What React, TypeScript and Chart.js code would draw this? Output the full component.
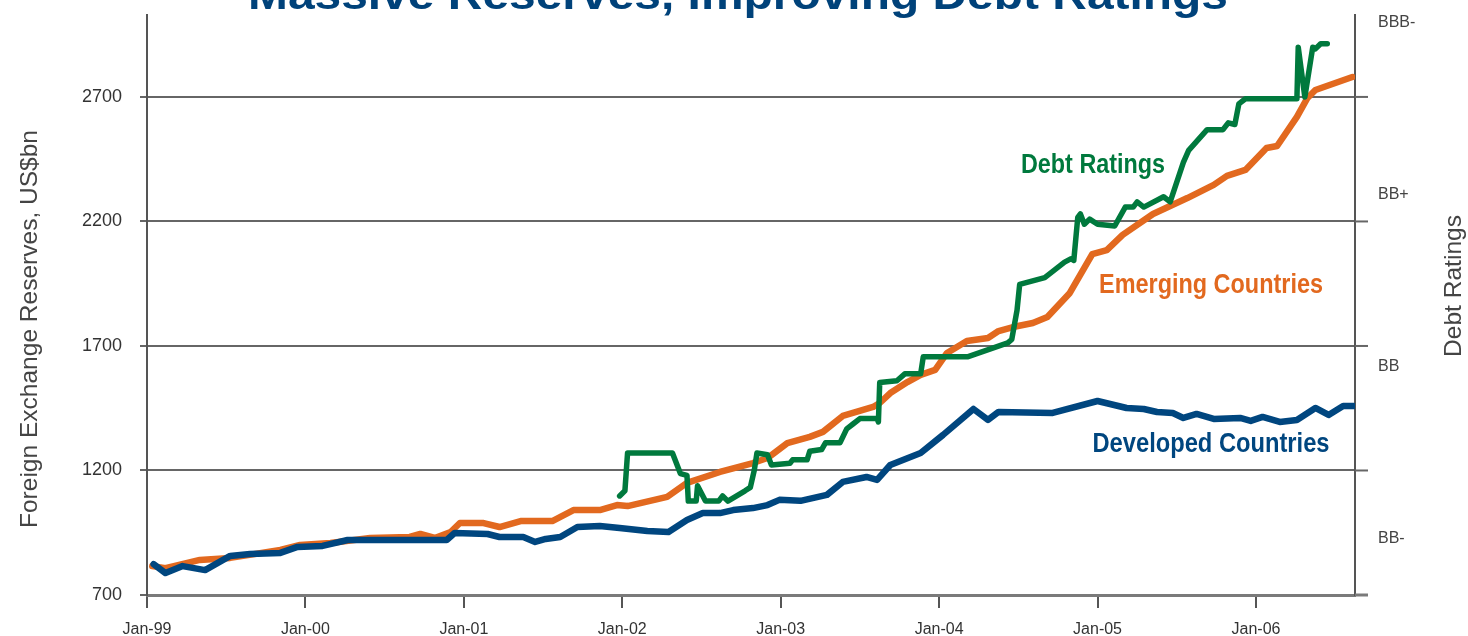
import React, { useEffect, useRef } from 'react';
import { Chart, registerables } from 'chart.js';

Chart.register(...registerables);

// Months since Jan-1999
const xTickMonths = [0, 12, 24, 36, 48, 60, 72, 84];
const xTickLabels = ['Jan-99', 'Jan-00', 'Jan-01', 'Jan-02', 'Jan-03', 'Jan-04', 'Jan-05', 'Jan-06'];
const reserveTicks = [700, 1200, 1700, 2200, 2700];
const ratingTicks = [0, 1, 2, 3];
const ratingLabels = ['BB-', 'BB', 'BB+', 'BBB-'];

const emergingMonths = [0.4, 1.4, 4.0, 6.3, 10.1, 11.6, 13.9, 16.9, 19.9, 20.7, 21.8, 23.0, 23.7, 25.5, 26.7, 28.3, 30.7, 32.3, 34.3, 35.6, 36.4, 39.4, 40.9, 43.4, 45.9, 47.0, 48.5, 50.2, 51.2, 52.7, 55.0, 55.5, 56.3, 57.6, 58.6, 59.7, 60.6, 62.1, 63.7, 64.5, 65.6, 67.1, 68.2, 69.9, 71.6, 72.7, 73.9, 76.2, 78.8, 80.8, 81.8, 83.2, 84.8, 85.6, 87.1, 87.9, 88.5, 91.3];
const emergingValues = [816, 808, 841, 849, 881, 901, 909, 929, 933, 945, 929, 953, 989, 989, 973, 997, 997, 1041, 1041, 1061, 1057, 1094, 1150, 1194, 1230, 1250, 1310, 1335, 1355, 1419, 1455, 1471, 1511, 1555, 1584, 1604, 1672, 1720, 1732, 1760, 1776, 1792, 1816, 1913, 2069, 2085, 2146, 2230, 2294, 2347, 2383, 2407, 2495, 2503, 2620, 2696, 2728, 2780];

const developedMonths = [0.5, 1.4, 2.7, 4.4, 6.3, 7.8, 10.1, 11.4, 13.3, 15.2, 17.1, 22.7, 23.3, 25.8, 26.7, 28.5, 29.4, 30.2, 31.3, 32.6, 34.3, 35.8, 37.9, 39.5, 40.9, 42.1, 43.4, 44.4, 45.9, 47.0, 47.9, 49.5, 51.5, 52.7, 54.5, 55.3, 56.3, 58.6, 60.3, 62.6, 63.7, 64.5, 68.6, 72.0, 74.2, 75.5, 76.5, 77.7, 78.5, 79.5, 80.8, 82.8, 83.6, 84.5, 85.8, 87.1, 88.5, 89.5, 90.6, 91.4];
const developedValues = [824, 788, 816, 800, 857, 865, 869, 893, 897, 921, 921, 921, 949, 945, 933, 933, 913, 925, 933, 973, 977, 969, 957, 953, 1001, 1029, 1029, 1041, 1049, 1061, 1082, 1078, 1102, 1154, 1174, 1162, 1222, 1270, 1343, 1447, 1403, 1435, 1431, 1479, 1451, 1447, 1435, 1431, 1411, 1427, 1407, 1411, 1399, 1415, 1395, 1403, 1451, 1423, 1459, 1459];

// Debt rating in notches: 0 = BB-, 1 = BB, 2 = BB+, 3 = BBB-
const ratingMonths = [35.8, 36.2, 36.4, 37.1, 39.8, 40.4, 40.9, 41.0, 41.6, 41.7, 42.3, 43.3, 43.6, 44.0, 45.3, 45.7, 46.0, 46.2, 47.0, 47.3, 48.7, 48.9, 50.0, 50.2, 51.1, 51.4, 52.5, 53.0, 53.5, 54.0, 55.3, 55.4, 55.5, 56.8, 57.4, 58.6, 58.8, 62.2, 65.2, 65.5, 65.9, 66.1, 68.0, 69.5, 70.0, 70.2, 70.5, 70.7, 71.0, 71.4, 72.0, 73.3, 74.1, 74.7, 75.0, 75.5, 77.0, 77.5, 78.5, 78.9, 80.3, 81.5, 81.9, 82.4, 82.7, 83.2, 87.1, 87.2, 87.7, 88.3, 88.5, 88.9, 89.4];
const ratingValues = [0.25, 0.28, 0.50, 0.50, 0.50, 0.38, 0.37, 0.22, 0.22, 0.31, 0.22, 0.22, 0.25, 0.22, 0.28, 0.30, 0.40, 0.50, 0.49, 0.43, 0.44, 0.46, 0.46, 0.51, 0.52, 0.56, 0.56, 0.64, 0.67, 0.70, 0.70, 0.68, 0.91, 0.92, 0.96, 0.96, 1.06, 1.06, 1.14, 1.16, 1.33, 1.48, 1.52, 1.61, 1.63, 1.62, 1.87, 1.89, 1.83, 1.86, 1.83, 1.82, 1.93, 1.93, 1.96, 1.93, 1.99, 1.96, 2.19, 2.26, 2.38, 2.38, 2.42, 2.41, 2.53, 2.56, 2.56, 2.86, 2.57, 2.86, 2.85, 2.88, 2.88];

const ORANGE = '#E2691F';
const BLUE = '#00467F';
const GREEN = '#00793D';
const TITLE_BLUE = '#00427A';
const SANS = '"Liberation Sans", Arial, sans-serif';

function drawFitted(ctx: CanvasRenderingContext2D, text: string, font: string, color: string, cx: number, cy: number, width: number, rot: number, baseline: CanvasTextBaseline) {
  ctx.save();
  ctx.font = font;
  const w = ctx.measureText(text).width;
  ctx.translate(cx, cy);
  if (rot) ctx.rotate(rot);
  ctx.scale(width / w, 1);
  ctx.textAlign = 'center';
  ctx.textBaseline = baseline;
  ctx.fillStyle = color;
  ctx.fillText(text, 0, 0);
  ctx.restore();
}

const noPad = (s: any) => {
  s.paddingTop = 0;
  s.paddingBottom = 0;
  s.paddingLeft = 0;
  s.paddingRight = 0;
};

export default function App() {
  const ref = useRef<HTMLCanvasElement>(null);
  useEffect(() => {
    document.body.style.margin = '0';
    const canvas = ref.current!;
    const pts = (xs: number[], ys: number[]) => xs.map((x, i) => ({ x, y: ys[i] }));

    const overlay = {
      id: 'overlay',
      afterDraw(chart: any) {
        const ctx: CanvasRenderingContext2D = chart.ctx;
        const area = chart.chartArea;
        const yS = chart.scales.y;
        ctx.save();
        reserveTicks.forEach((v, i) => {
          const py = yS.getPixelForValue(v);
          ctx.beginPath();
          ctx.strokeStyle = i === 0 ? '#7a7a7a' : '#666';
          ctx.lineWidth = i === 0 ? 3 : 2;
          ctx.moveTo(area.right, py);
          ctx.lineTo(area.right + 13, py);
          ctx.stroke();
        });
        ctx.restore();
        drawFitted(ctx, 'Massive Reserves, Improving Debt Ratings', `bold 42px ${SANS}`, TITLE_BLUE, 738, 9, 980, 0, 'alphabetic');
        drawFitted(ctx, 'Debt Ratings', `bold 27px ${SANS}`, GREEN, 1093, 173, 144, 0, 'alphabetic');
        drawFitted(ctx, 'Emerging Countries', `bold 27px ${SANS}`, ORANGE, 1211, 293, 224, 0, 'alphabetic');
        drawFitted(ctx, 'Developed Countries', `bold 27px ${SANS}`, BLUE, 1211, 452, 237, 0, 'alphabetic');
        drawFitted(ctx, 'Foreign Exchange Reserves, US$bn', `24px ${SANS}`, '#444', 30, 329, 398, -Math.PI / 2, 'middle');
        drawFitted(ctx, 'Debt Ratings', `24px ${SANS}`, '#444', 1454, 286, 142, -Math.PI / 2, 'middle');
      },
    };

    const chart = new Chart(canvas, {
      type: 'line',
      data: {
        datasets: [
          {
            label: 'Debt Ratings',
            data: pts(ratingMonths, ratingValues),
            yAxisID: 'y2',
            borderColor: GREEN,
            borderWidth: 5.5,
            pointRadius: 0,
            tension: 0,
            borderJoinStyle: 'round',
            borderCapStyle: 'round',
            order: 0,
          },
          {
            label: 'Developed Countries',
            data: pts(developedMonths, developedValues),
            yAxisID: 'y',
            borderColor: BLUE,
            borderWidth: 6.5,
            pointRadius: 0,
            tension: 0,
            borderJoinStyle: 'round',
            borderCapStyle: 'round',
            order: 1,
          },
          {
            label: 'Emerging Countries',
            data: pts(emergingMonths, emergingValues),
            yAxisID: 'y',
            borderColor: ORANGE,
            borderWidth: 6.5,
            pointRadius: 0,
            tension: 0,
            borderJoinStyle: 'round',
            borderCapStyle: 'round',
            order: 2,
          },
        ],
      },
      options: {
        responsive: false,
        animation: false,
        devicePixelRatio: 1,
        layout: { padding: { top: 15, left: 0, right: 0, bottom: 0 } },
        plugins: { legend: { display: false }, tooltip: { enabled: false }, title: { display: false } },
        scales: {
          x: {
            type: 'linear',
            min: 0,
            max: 91.5,
            afterBuildTicks: (s: any) => { s.ticks = xTickMonths.map((v) => ({ value: v })); },
            afterFit: (s: any) => { s.height = 41; noPad(s); },
            ticks: {
              autoSkip: false,
              maxRotation: 0,
              padding: 12,
              color: '#333',
              font: { family: SANS, size: 16 },
              callback: (_v: any, i: number) => xTickLabels[i],
            },
            grid: { display: true, drawOnChartArea: false, drawTicks: true, tickLength: 13, color: '#555', lineWidth: 2 },
            border: { display: true, color: '#7a7a7a', width: 3 },
          },
          y: {
            type: 'linear',
            position: 'left',
            min: 700,
            max: 3029,
            afterBuildTicks: (s: any) => { s.ticks = reserveTicks.map((v) => ({ value: v })); },
            afterFit: (s: any) => { s.width = 147; noPad(s); },
            ticks: { padding: 18, color: '#333', font: { family: SANS, size: 18 }, callback: (v: any) => String(v) },
            grid: { display: true, drawOnChartArea: true, drawTicks: true, tickLength: 7, color: '#666', lineWidth: 2 },
            border: { display: true, color: '#555', width: 2 },
          },
          y2: {
            type: 'linear',
            position: 'right',
            min: -0.326,
            max: 3.047,
            afterBuildTicks: (s: any) => { s.ticks = ratingTicks.map((v) => ({ value: v })); },
            afterFit: (s: any) => { s.width = 113; noPad(s); },
            ticks: { padding: 23, color: '#444', font: { family: SANS, size: 16 }, callback: (_v: any, i: number) => ratingLabels[i] },
            grid: { display: false, drawTicks: false },
            border: { display: true, color: '#555', width: 2 },
          },
        },
      },
      plugins: [overlay],
    } as any);
    return () => chart.destroy();
  }, []);
  return <canvas ref={ref} width={1468} height={636} style={{ display: 'block' }} />;
}
